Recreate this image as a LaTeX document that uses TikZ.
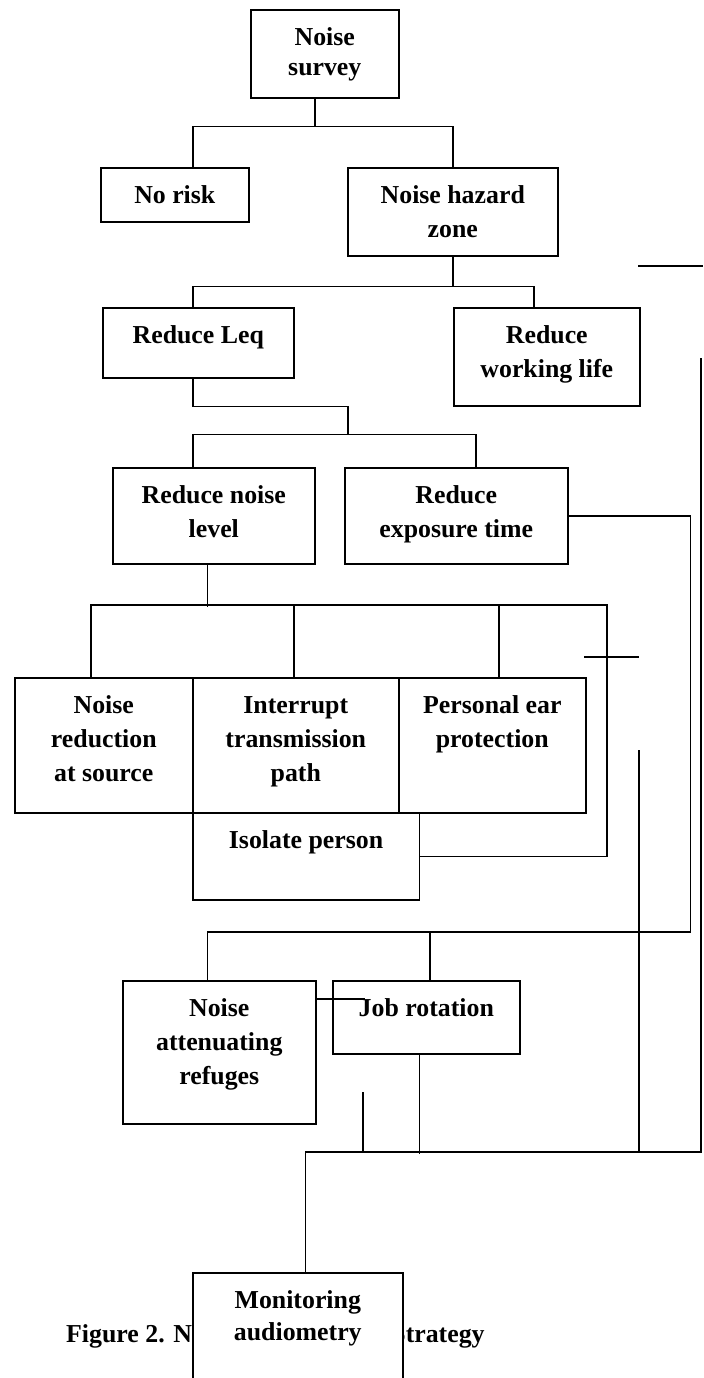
\documentclass[tikz,border=0pt]{standalone}
\usepackage{fontspec}
\setmainfont{Liberation Serif}
\newlength\pxu
\setlength\pxu{0.02cm}
\newcommand\bx[3]{\parbox[t][#2\pxu][t]{#1\pxu}{\centering\rule{0pt}{36\pxu}#3}}
\tikzset{
  box/.style={draw, line width=0.9pt, inner sep=0pt, anchor=north west, fill=white, font=\bfseries\fontsize{14.7}{19.3}\selectfont},
  link/.style={line width=0.9pt}
}
\begin{document}
\begin{tikzpicture}[x=0.02cm, y=-0.02cm]
\useasboundingbox (0,0) rectangle (703,1378);
\node[anchor=base west, font=\bfseries\fontsize{14.7}{19.3}\selectfont] (caption) at (60,1342) {Figure 2. Noise Management Strategy};
\node[box] (survey) at (250,9) {\bx{148}{88}{\fontsize{14.7}{17}\selectfont Noise\\survey}};
\node[box] (norisk) at (100,167) {\bx{148}{54}{No risk}};
\node[box] (hazard) at (347,167) {\bx{210}{88}{Noise hazard\\zone}};
\node[box] (leq) at (102,307) {\bx{191}{70}{Reduce Leq}};
\node[box] (worklife) at (453,307) {\bx{186}{98}{Reduce\\working life}};
\node[box] (noiselevel) at (112,467) {\bx{202}{96}{Reduce noise\\level}};
\node[box] (exposure) at (344,467) {\bx{223}{96}{Reduce\\exposure time}};
\node[box] (source) at (14,677) {\bx{178}{135}{Noise\\reduction\\at source}};
\node[box] (interrupt) at (192,677) {\bx{206}{135}{Interrupt\\transmission\\path}};
\node[box] (earprot) at (398,677) {\bx{187}{135}{Personal ear\\protection}};
\node[box] (isolate) at (192,812) {\bx{226.5}{87}{Isolate person}};
\node[box] (refuges) at (122,980) {\bx{193}{143}{Noise\\attenuating\\refuges}};
\node[box] (jobrot) at (332,980) {\bx{187}{73}{Job rotation}};
\node[box] (monitor) at (192,1272) {\bx{210}{120}{\fontsize{14.7}{18.1}\selectfont Monitoring\\audiometry}};
\draw[link] ([xshift=-10\pxu]survey.south) -- ++(0,28) coordinate (s1);
\draw[link] ([xshift=18\pxu]norisk.north) |- (s1) -| (hazard.north);
\draw[link] (hazard.south) -- ++(0,30) coordinate (h1);
\draw[link] ([xshift=-5.5\pxu]leq.north) |- (h1) -| ([xshift=-13\pxu]worklife.north);
\draw[link] ([xshift=-5.5\pxu]leq.south) |- ++(155,28) -- ++(0,28) coordinate (l1);
\draw[link] ([xshift=-21\pxu]noiselevel.north) |- (l1) -| ([xshift=19.5\pxu]exposure.north);
\draw[link] ([xshift=-6.5\pxu]noiselevel.south) -- ++(0,42);
\coordinate (n2) at (607,605);
\draw[link] ([xshift=-13\pxu]source.north) |- (n2) |- (isolate.east);
\draw[link] ([xshift=-2\pxu]interrupt.north) -- ++(0,-72);
\draw[link] ([xshift=6.5\pxu]earprot.north) -- ++(0,-72);
\draw[link] (exposure.east) -| ++(122,416) coordinate (e1);
\draw[link] ([xshift=-12\pxu]refuges.north) |- (e1);
\draw[link] ([xshift=3.5\pxu]jobrot.north) -- ++(0,-49);
\draw[link] ([yshift=-19\pxu]refuges.north east) -- ++(48,0);
\coordinate (m1) at (701,1152);
\coordinate (m2) at (701,358);
\draw[link] ([xshift=7.5\pxu]monitor.north) |- (m1) -- (m2);
\draw[link] ([xshift=-7\pxu]jobrot.south) -- ++(0,99);
\coordinate (g1) at (363,1092);
\draw[link] (g1) -- (g1 |- m1);
\coordinate (g2) at (639,750);
\draw[link] (g2) -- (g2 |- m1);
\coordinate (g3) at (584,657);
\draw[link] (g3) -- ++(55,0);
\coordinate (g4) at (638,266);
\draw[link] (g4) -- ++(65,0);
\end{tikzpicture}
\end{document}
